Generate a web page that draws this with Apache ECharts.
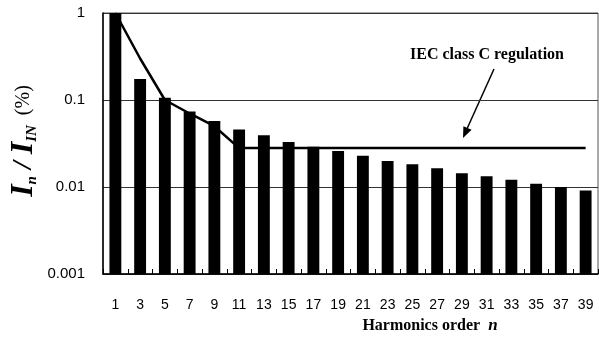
<!DOCTYPE html>
<html>
<head>
<meta charset="utf-8">
<script src="https://cdn.jsdelivr.net/npm/echarts@6/dist/echarts.min.js"></script>
<style>
  html, body { margin: 0; padding: 0; background: #fff; }
  #chart { width: 599px; height: 358px; }
</style>
</head>
<body>
<div id="chart"></div>
<script>
// Harmonic order (odd harmonics only)
const harmonics = ['1','3','5','7','9','11','13','15','17','19','21','23','25','27','29','31','33','35','37','39'];

// Measured harmonic current relative to the fundamental
const measured = [1, 0.174, 0.106, 0.0738, 0.0575, 0.0459, 0.0393, 0.0330, 0.0290, 0.0259,
                  0.0228, 0.0199, 0.0182, 0.0164, 0.0144, 0.0133, 0.0121, 0.0109, 0.0100, 0.0091];

// IEC 61000-3-2 class C limit
const classCLimit = [1, 0.3, 0.1, 0.07, 0.05, 0.028, 0.028, 0.028, 0.028, 0.028,
                     0.028, 0.028, 0.028, 0.028, 0.028, 0.028, 0.028, 0.028, 0.028, 0.028];

// Y-axis tick labels, one per decade from 0.001 to 1
const yTickLabels = ['0.001', '0.01', '0.1', '1'];
const yMin = 0.001;
const yMax = 1;

const chart = echarts.init(document.getElementById('chart'), null, { renderer: 'canvas' });

const serif = '"Liberation Serif", "Times New Roman", serif';
const sans = '"Liberation Sans", Arial, sans-serif';

// Bars on a log axis, drawn up from the axis minimum
function renderBar(params, api) {
  const idx = api.value(0);
  const v = api.value(1);
  const top = api.coord([idx, v]);
  const base = api.coord([idx, yMin]);
  const w = api.size([1, 0])[0] * 0.48;
  return {
    type: 'rect',
    shape: { x: top[0] - w / 2, y: top[1], width: w, height: base[1] - top[1] },
    style: { fill: '#000' }
  };
}

chart.setOption({
  animation: false,
  backgroundColor: '#fff',
  grid: {
    left: 103, right: 1, top: 13, bottom: 84,
    show: true, borderColor: '#555', borderWidth: 1, backgroundColor: 'transparent'
  },
  xAxis: {
    type: 'category',
    data: harmonics,
    boundaryGap: true,
    axisLine: { lineStyle: { color: '#000', width: 1.5 } },
    axisTick: { show: true, inside: true, length: 5, alignWithLabel: false, lineStyle: { color: '#000' } },
    axisLabel: { color: '#000', fontFamily: sans, fontSize: 14, margin: 24, interval: 0 }
  },
  yAxis: {
    type: 'log',
    logBase: 10,
    min: yMin,
    max: yMax,
    axisLine: { show: true, lineStyle: { color: '#000', width: 1.5 } },
    axisTick: { show: false },
    splitLine: { show: true, lineStyle: { color: '#333', width: 1 } },
    axisLabel: {
      color: '#000', fontFamily: sans, fontSize: 15, margin: 18,
      formatter: function (v) {
        const i = Math.round(Math.log10(v)) + 3;
        return yTickLabels[i] !== undefined ? yTickLabels[i] : '';
      }
    }
  },
  series: [
    {
      name: 'measured',
      type: 'custom',
      renderItem: renderBar,
      encode: { x: 0, y: 1 },
      data: measured.map(function (v, i) { return [i, v]; }),
      z: 2
    },
    {
      name: 'IEC class C regulation',
      type: 'line',
      data: classCLimit,
      symbol: 'none',
      smooth: false,
      lineStyle: { color: '#000', width: 2.5 },
      z: 3
    }
  ],
  graphic: [
    {
      type: 'text',
      x: 24, y: 141,
      rotation: Math.PI / 2,
      style: {
        text: '{I|I}{sub|n}{sl| / }{I|I}{sub|IN}{pct|  (%)}',
        align: 'center',
        verticalAlign: 'middle',
        rich: {
          I: { fontFamily: serif, fontStyle: 'italic', fontWeight: 'bold', fontSize: 32, fill: '#000', verticalAlign: 'middle' },
          sub: { fontFamily: serif, fontStyle: 'italic', fontWeight: 'bold', fontSize: 15, fill: '#000', verticalAlign: 'bottom', padding: [14, 0, 0, 0] },
          sl: { fontFamily: serif, fontStyle: 'italic', fontWeight: 'bold', fontSize: 28, fill: '#000', verticalAlign: 'middle' },
          pct: { fontFamily: serif, fontSize: 20, fill: '#000', verticalAlign: 'middle' }
        }
      }
    },
    {
      type: 'text',
      x: 430, y: 326,
      style: {
        text: '{b|Harmonics order  }{bi|n}',
        align: 'center',
        verticalAlign: 'middle',
        rich: {
          b: { fontFamily: serif, fontWeight: 'bold', fontSize: 16, fill: '#000' },
          bi: { fontFamily: serif, fontWeight: 'bold', fontStyle: 'italic', fontSize: 17, fill: '#000' }
        }
      }
    },
    {
      type: 'text',
      x: 487, y: 55,
      style: {
        text: 'IEC class C regulation',
        fontFamily: serif, fontWeight: 'bold', fontSize: 16,
        fill: '#000', align: 'center', verticalAlign: 'middle'
      }
    },
    {
      type: 'line',
      shape: { x1: 494, y1: 69, x2: 466, y2: 131 },
      style: { stroke: '#000', lineWidth: 1.5 }
    },
    {
      type: 'polygon',
      shape: { points: [[463, 138], [471.6, 129.8], [463.4, 126.2]] },
      style: { fill: '#000' }
    }
  ]
});
</script>
</body>
</html>
